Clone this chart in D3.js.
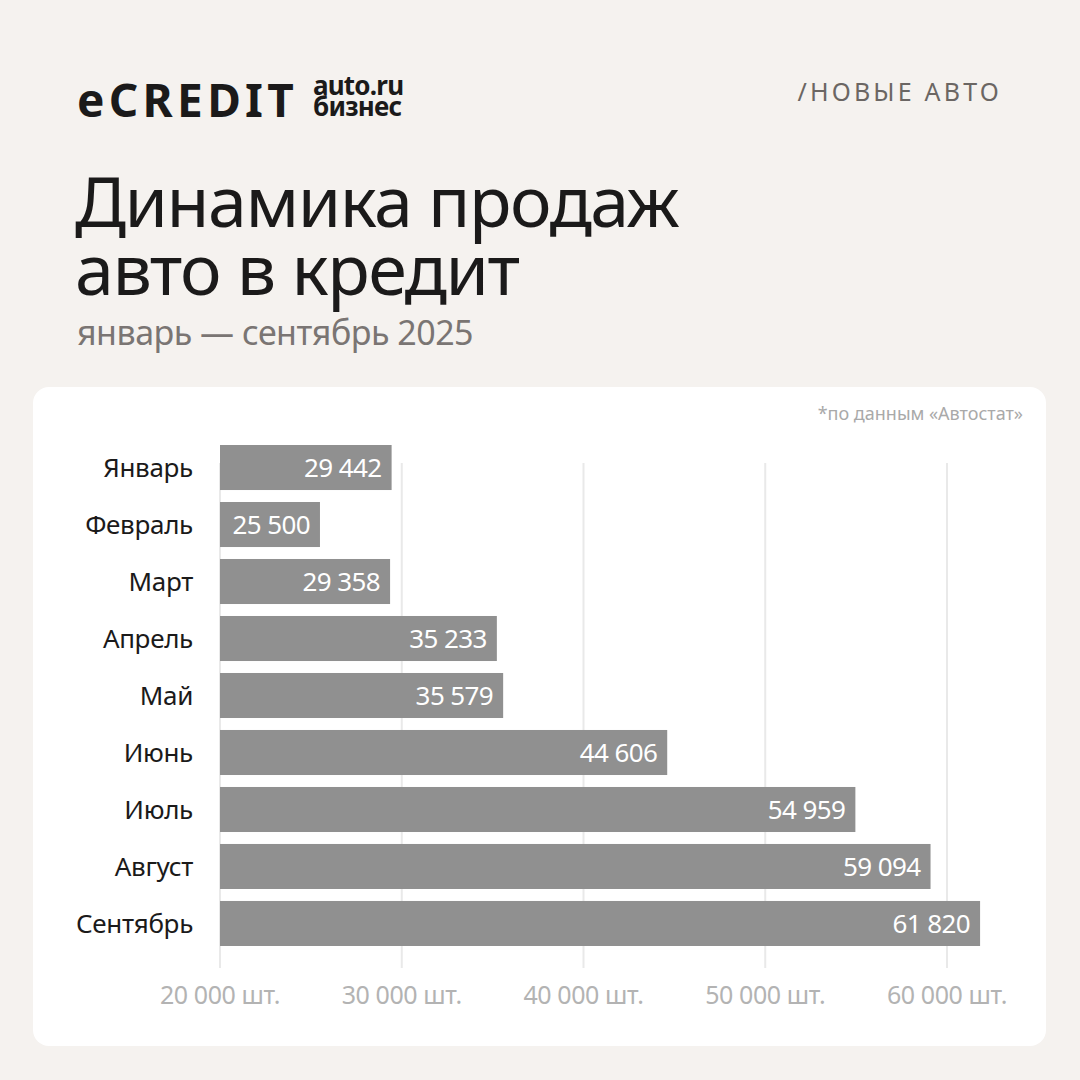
<!DOCTYPE html>
<html>
<head>
<meta charset="utf-8">
<script src="https://cdn.jsdelivr.net/npm/d3@7"></script>
<style>
  html, body { margin: 0; padding: 0; background: #f5f2ef; }
  svg { display: block; font-family: 'Noto Sans', 'Open Sans', sans-serif; }
</style>
</head>
<body>
<div id="chart"></div>
<script>
// данные
const months = ['Январь', 'Февраль', 'Март', 'Апрель', 'Май', 'Июнь', 'Июль', 'Август', 'Сентябрь'];
const sales = [29442, 25500, 29358, 35233, 35579, 44606, 54959, 59094, 61820];
const tickValues = [20000, 30000, 40000, 50000, 60000];
const tickSuffix = ' шт.';

const W = 1080, H = 1080;
const ru = d3.formatLocale({ decimal: ',', thousands: ' ', grouping: [3], currency: ['', ''] });
const fmt = ru.format(',d');

const svg = d3.select('#chart').append('svg')
  .attr('width', W)
  .attr('height', H);

svg.append('rect').attr('width', W).attr('height', H).attr('fill', '#f5f2ef');

// шапка
const logo = svg.append('g');
logo.append('text')
  .attr('x', 77).attr('y', 117)
  .style('font-weight', 700)
  .style('font-size', '46px')
  .style('letter-spacing', '4.3px')
  .attr('fill', '#1b1a1a')
  .text('eCREDIT');

const sub = logo.append('text')
  .style('font-weight', 700).style('font-size', '26px')
  .style('letter-spacing', '-0.8px')
  .attr('fill', '#1b1a1a');
sub.append('tspan').attr('x', 313).attr('y', 95).text('auto.ru');
sub.append('tspan').attr('x', 313).attr('y', 116).text('бизнес');

svg.append('text')
  .attr('x', 1002).attr('y', 101)
  .attr('text-anchor', 'end')
  .style('font-size', '25px')
  .style('letter-spacing', '3.2px')
  .attr('fill', '#6b6663')
  .text('/НОВЫЕ АВТО');

const title = svg.append('text')
  .style('font-size', '70px')
  .style('letter-spacing', '-1.5px')
  .attr('fill', '#1b1a1a');
title.append('tspan').attr('x', 75).attr('y', 227).text('Динамика продаж');
title.append('tspan').attr('x', 75).attr('y', 295).text('авто в кредит');

svg.append('text')
  .attr('x', 77).attr('y', 345)
  .style('font-size', '34px')
  .style('letter-spacing', '-0.5px')
  .attr('fill', '#7a7573')
  .text('январь — сентябрь 2025');

// карточка
svg.append('rect')
  .attr('x', 33).attr('y', 387)
  .attr('width', 1013).attr('height', 659)
  .attr('rx', 16)
  .attr('fill', '#ffffff');

svg.append('text')
  .attr('x', 1023).attr('y', 420)
  .attr('text-anchor', 'end')
  .style('font-size', '18px')
  .attr('fill', '#a9a9a9')
  .text('*по данным «Автостат»');

// шкалы
const x = d3.scaleLinear().domain([20000, 60000]).range([220, 947]);
const y = d3.scaleBand().domain(months).range([445, 946]).paddingInner(0.21).paddingOuter(0);

const grid = svg.append('g');
grid.selectAll('line')
  .data(tickValues)
  .join('line')
  .attr('x1', d => x(d)).attr('x2', d => x(d))
  .attr('y1', 463).attr('y2', 968)
  .attr('stroke', '#e9e9e9')
  .attr('stroke-width', 2);

grid.selectAll('text')
  .data(tickValues)
  .join('text')
  .attr('x', d => x(d))
  .attr('y', 1004)
  .attr('text-anchor', 'middle')
  .style('font-size', '25px')
  .style('letter-spacing', '-0.4px')
  .attr('fill', '#b3b3b3')
  .text(d => fmt(d) + tickSuffix);

const rows = svg.append('g')
  .selectAll('g')
  .data(months.map((m, i) => ({ month: m, value: sales[i] })))
  .join('g');

rows.append('rect')
  .attr('x', x(20000))
  .attr('y', d => y(d.month))
  .attr('width', d => x(d.value) - x(20000))
  .attr('height', y.bandwidth())
  .attr('fill', '#909090');

rows.append('text')
  .attr('x', d => x(d.value) - 10)
  .attr('y', d => y(d.month) + y.bandwidth() / 2)
  .attr('dy', '0.36em')
  .attr('text-anchor', 'end')
  .style('font-size', '26px')
  .style('letter-spacing', '-0.6px')
  .attr('fill', '#ffffff')
  .text(d => fmt(d.value));

rows.append('text')
  .attr('x', 193)
  .attr('y', d => y(d.month) + y.bandwidth() / 2)
  .attr('dy', '0.36em')
  .attr('text-anchor', 'end')
  .style('font-size', '26px')
  .style('letter-spacing', '-0.3px')
  .attr('fill', '#1b1a1a')
  .text(d => d.month);
</script>
</body>
</html>
